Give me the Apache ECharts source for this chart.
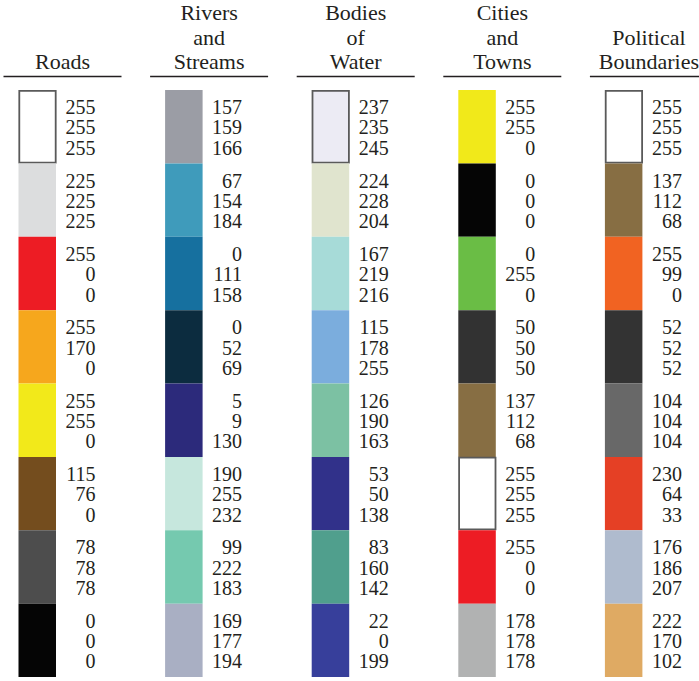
<!DOCTYPE html>
<html>
<head>
<meta charset="utf-8">
<script src="https://cdn.jsdelivr.net/npm/echarts@6/dist/echarts.min.js"></script>
<style>
html,body{margin:0;padding:0;background:#fff;}
#chart{width:699px;height:681px;}
</style>
</head>
<body>
<div id="chart"></div>
<script>
// Column headings
const headers = ['Roads', 'Rivers\nand\nStreams', 'Bodies\nof\nWater', 'Cities\nand\nTowns', 'Political\nBoundaries'];

// RGB values listed beside each swatch (per column, top to bottom)
const roadsRGB = [[255,255,255],[225,225,225],[255,0,0],[255,170,0],[255,255,0],[115,76,0],[78,78,78],[0,0,0]];
const riversRGB = [[157,159,166],[67,154,184],[0,111,158],[0,52,69],[5,9,130],[190,255,232],[99,222,183],[169,177,194]];
const waterRGB = [[237,235,245],[224,228,204],[167,219,216],[115,178,255],[126,190,163],[53,50,138],[83,160,142],[22,0,199]];
const citiesRGB = [[255,255,0],[0,0,0],[0,255,0],[50,50,50],[137,112,68],[255,255,255],[255,0,0],[178,178,178]];
const politicalRGB = [[255,255,255],[137,112,68],[255,99,0],[52,52,52],[104,104,104],[230,64,33],[176,186,207],[222,170,102]];

// Printed appearance of each swatch (style palette, same order as the values above)
const roadsInk = ['#ffffff','#dcddde','#ed1c24','#f6a71d','#f2e91a','#744d1e','#4d4d4d','#050505'];
const riversInk = ['#9b9da5','#3f9bbb','#16709f','#0c2c3f','#2c2a7b','#c6e7dd','#75c9af','#a9afc3'];
const waterInk = ['#ecebf4','#e0e4ce','#a7dbd8','#7baddd','#7cc1a3','#31318a','#509f8d','#373f9b'];
const citiesInk = ['#f1e91a','#050505','#6abd45','#323232','#876e43','#ffffff','#ed1c24','#b1b2b2'];
const politicalInk = ['#ffffff','#876e43','#f16322','#333333','#686868','#e54025','#afbbce','#dfaa63'];

const allRGB = [roadsRGB, riversRGB, waterRGB, citiesRGB, politicalRGB];
const allInk = [roadsInk, riversInk, waterInk, citiesInk, politicalInk];

const cellData = [];
allRGB.forEach((col, i) => {
  col.forEach((rgb, r) => {
    cellData.push([i, r, rgb[0], rgb[1], rgb[2]]);
  });
});
const headerData = headers.map((h, i) => [i, -0.5]);

const INK = '#231f20';
const FONT = '"Liberation Serif", "DejaVu Serif", serif';

const chart = echarts.init(document.getElementById('chart'), null, {renderer: 'svg'});
chart.setOption({
  backgroundColor: '#ffffff',
  animation: false,
  grid: {left: 0, right: 0, top: 90, bottom: 4},
  xAxis: {type: 'value', min: -0.4263, max: 4.3417, show: false},
  yAxis: {type: 'value', min: -0.5, max: 7.5, inverse: true, show: false},
  series: [
    {
      type: 'custom',
      clip: false,
      data: cellData,
      renderItem: function (params, api) {
        const i = api.value(0), r = api.value(1);
        const c = api.coord([i, r]);
        const h = api.size([0, 1])[1];
        const ink = allInk[i][r];
        const rgb = [api.value(2), api.value(3), api.value(4)];
        const light = rgb.every(v => v >= 230);
        const top = c[1] - h / 2;
        const children = [];
        if (light) {
          children.push({
            type: 'rect',
            shape: {x: c[0] - 43.2, y: top + 0.8, width: 36.4, height: h - 1.6},
            style: {fill: ink, stroke: '#5a5a5a', lineWidth: 1.8}
          });
        } else {
          children.push({
            type: 'rect',
            shape: {x: c[0] - 44, y: top, width: 37.5, height: h},
            style: {fill: ink}
          });
        }
        const offs = [-19.5, 0.8, 21.1];
        rgb.forEach((v, k) => {
          children.push({
            type: 'text',
            x: c[0] + 33, y: c[1] + offs[k],
            style: {
              text: String(v), fill: INK, font: '20px ' + FONT,
              align: 'right', verticalAlign: 'middle'
            }
          });
        });
        return {type: 'group', children: children};
      }
    },
    {
      type: 'custom',
      clip: false,
      data: headerData,
      renderItem: function (params, api) {
        const i = api.value(0);
        const c = api.coord([i, api.value(1)]);
        return {
          type: 'group',
          children: [
            {
              type: 'text',
              x: c[0], y: c[1] - 16,
              style: {
                text: headers[i], fill: INK, font: '22px ' + FONT,
                align: 'center', verticalAlign: 'bottom', lineHeight: 24.5
              }
            },
            {
              type: 'line',
              shape: {x1: c[0] - 59, y1: c[1] - 13.5, x2: c[0] + 59, y2: c[1] - 13.5},
              style: {stroke: INK, lineWidth: 1.3}
            }
          ]
        };
      }
    }
  ]
});
</script>
</body>
</html>
